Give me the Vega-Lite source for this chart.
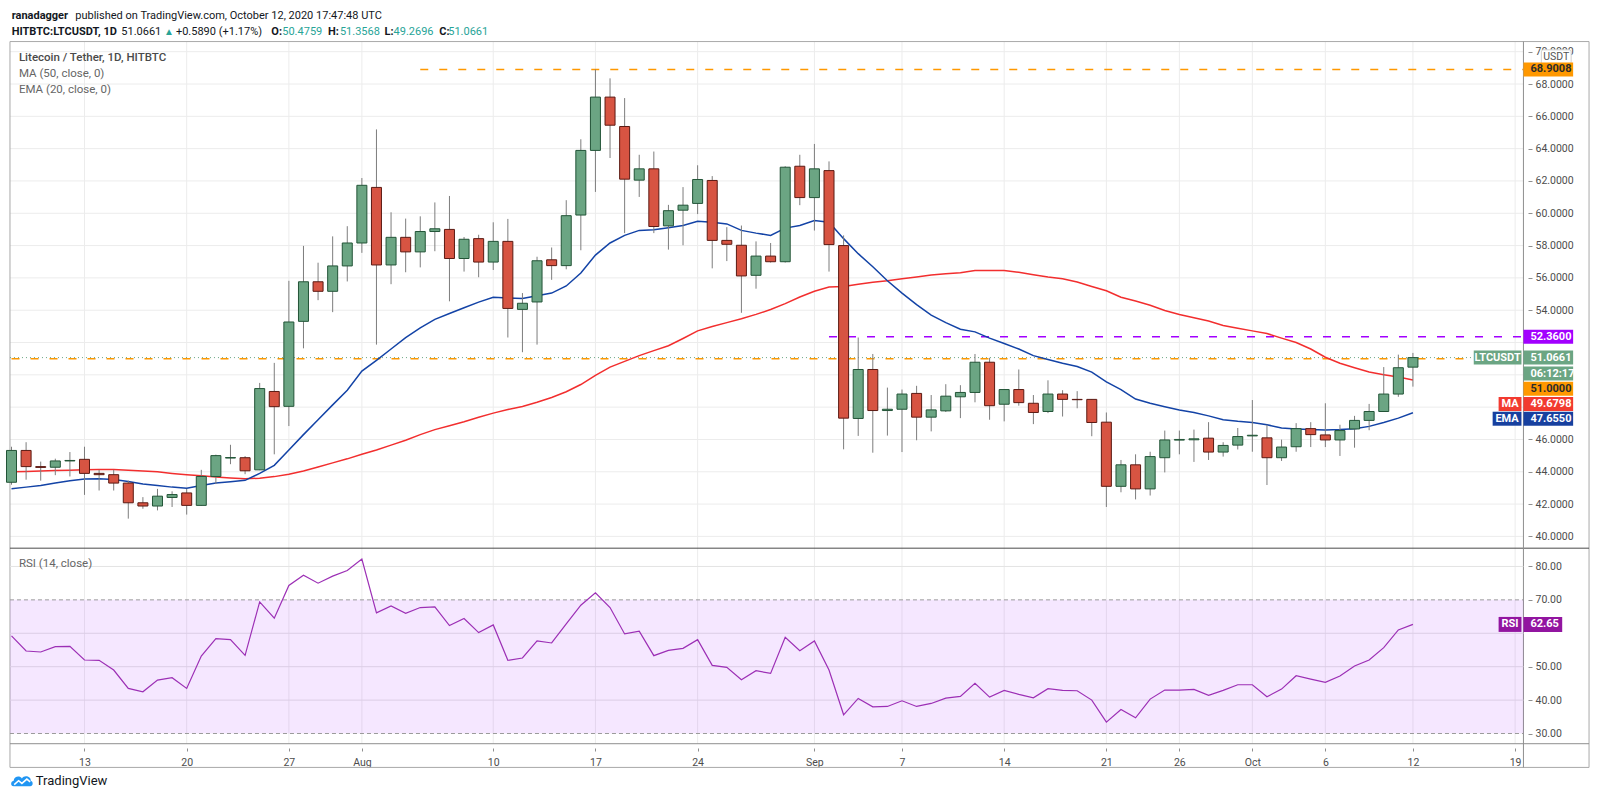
{
"$schema": "https://vega.github.io/schema/vega-lite/v6.json",
"width": 1600,
"height": 805,
"autosize": {"type": "fit", "contains": "padding"},
"padding": 0,
"background": "#ffffff",
"config": {"view": {"stroke": null}, "text": {"font": "Roboto"}, "axis": {"labelFont": "Roboto"}},
"datasets": {
"candles": [
{"date":"2020-07-08","open":43.35,"high":45.55,"low":43.2,"close":45.32,"ma":44.0,"ema":42.95,"rsi":59.2},
{"date":"2020-07-09","open":45.32,"high":45.83,"low":43.51,"close":44.32,"ma":44.02,"ema":43.05,"rsi":54.7},
{"date":"2020-07-10","open":44.32,"high":44.63,"low":43.45,"close":44.27,"ma":44.05,"ema":43.15,"rsi":54.4},
{"date":"2020-07-11","open":44.28,"high":44.81,"low":43.79,"close":44.67,"ma":44.08,"ema":43.3,"rsi":56.0},
{"date":"2020-07-12","open":44.67,"high":45.22,"low":43.71,"close":44.7,"ma":44.1,"ema":43.45,"rsi":56.1},
{"date":"2020-07-13","open":44.77,"high":45.55,"low":42.57,"close":43.9,"ma":44.12,"ema":43.55,"rsi":52.0},
{"date":"2020-07-14","open":43.9,"high":44.12,"low":42.84,"close":43.82,"ma":44.14,"ema":43.57,"rsi":51.9},
{"date":"2020-07-15","open":43.82,"high":44.12,"low":42.84,"close":43.3,"ma":44.14,"ema":43.52,"rsi":49.0},
{"date":"2020-07-16","open":43.3,"high":43.45,"low":41.1,"close":42.08,"ma":44.1,"ema":43.4,"rsi":43.5},
{"date":"2020-07-17","open":42.08,"high":42.43,"low":41.71,"close":41.88,"ma":44.05,"ema":43.25,"rsi":42.5},
{"date":"2020-07-18","open":41.88,"high":42.94,"low":41.61,"close":42.49,"ma":44.0,"ema":43.15,"rsi":46.0},
{"date":"2020-07-19","open":42.41,"high":42.79,"low":41.82,"close":42.59,"ma":43.9,"ema":43.05,"rsi":46.7},
{"date":"2020-07-20","open":42.69,"high":42.94,"low":41.35,"close":41.92,"ma":43.82,"ema":42.98,"rsi":43.5},
{"date":"2020-07-21","open":41.92,"high":44.12,"low":41.9,"close":43.71,"ma":43.75,"ema":43.15,"rsi":53.2},
{"date":"2020-07-22","open":43.71,"high":45.06,"low":43.24,"close":45.0,"ma":43.68,"ema":43.3,"rsi":58.4},
{"date":"2020-07-23","open":44.85,"high":45.67,"low":44.47,"close":44.88,"ma":43.62,"ema":43.38,"rsi":58.1},
{"date":"2020-07-24","open":44.87,"high":44.97,"low":43.85,"close":44.06,"ma":43.57,"ema":43.47,"rsi":53.4},
{"date":"2020-07-25","open":44.12,"high":49.5,"low":44.1,"close":49.15,"ma":43.6,"ema":43.9,"rsi":69.4},
{"date":"2020-07-26","open":48.97,"high":50.74,"low":45.08,"close":48.03,"ma":43.7,"ema":44.4,"rsi":64.5},
{"date":"2020-07-27","open":48.05,"high":55.82,"low":46.83,"close":53.27,"ma":43.85,"ema":45.35,"rsi":74.3},
{"date":"2020-07-28","open":53.31,"high":57.98,"low":51.64,"close":55.76,"ma":44.05,"ema":46.3,"rsi":77.4},
{"date":"2020-07-29","open":55.76,"high":56.94,"low":54.62,"close":55.17,"ma":44.3,"ema":47.22,"rsi":75.0},
{"date":"2020-07-30","open":55.17,"high":58.57,"low":53.88,"close":56.74,"ma":44.55,"ema":48.14,"rsi":77.1},
{"date":"2020-07-31","open":56.74,"high":59.2,"low":55.78,"close":58.16,"ma":44.8,"ema":49.05,"rsi":78.8},
{"date":"2020-08-01","open":58.16,"high":62.18,"low":57.55,"close":61.73,"ma":45.08,"ema":50.23,"rsi":82.2},
{"date":"2020-08-02","open":61.6,"high":65.19,"low":51.87,"close":56.8,"ma":45.35,"ema":50.9,"rsi":66.1},
{"date":"2020-08-03","open":56.8,"high":60.06,"low":55.61,"close":58.51,"ma":45.65,"ema":51.6,"rsi":68.2},
{"date":"2020-08-04","open":58.51,"high":59.67,"low":56.35,"close":57.61,"ma":45.95,"ema":52.3,"rsi":66.0},
{"date":"2020-08-05","open":57.61,"high":59.81,"low":56.65,"close":58.87,"ma":46.3,"ema":52.9,"rsi":67.7},
{"date":"2020-08-06","open":58.87,"high":60.67,"low":57.65,"close":59.04,"ma":46.61,"ema":53.43,"rsi":67.9},
{"date":"2020-08-07","open":59.0,"high":61.07,"low":54.55,"close":57.2,"ma":46.85,"ema":53.8,"rsi":62.3},
{"date":"2020-08-08","open":57.2,"high":58.53,"low":56.39,"close":58.39,"ma":47.1,"ema":54.15,"rsi":64.4},
{"date":"2020-08-09","open":58.43,"high":58.67,"low":56.04,"close":56.98,"ma":47.38,"ema":54.5,"rsi":60.2},
{"date":"2020-08-10","open":56.98,"high":59.44,"low":56.49,"close":58.26,"ma":47.63,"ema":54.8,"rsi":62.5},
{"date":"2020-08-11","open":58.26,"high":59.65,"low":52.31,"close":54.11,"ma":47.85,"ema":54.75,"rsi":51.9},
{"date":"2020-08-12","open":54.05,"high":55.06,"low":51.4,"close":54.43,"ma":48.04,"ema":54.72,"rsi":52.6},
{"date":"2020-08-13","open":54.51,"high":57.31,"low":51.87,"close":57.06,"ma":48.3,"ema":54.9,"rsi":57.7},
{"date":"2020-08-14","open":57.12,"high":57.88,"low":55.88,"close":56.76,"ma":48.6,"ema":55.06,"rsi":57.1},
{"date":"2020-08-15","open":56.76,"high":60.81,"low":56.53,"close":59.85,"ma":48.95,"ema":55.5,"rsi":62.8},
{"date":"2020-08-16","open":59.89,"high":64.58,"low":57.71,"close":63.89,"ma":49.4,"ema":56.3,"rsi":68.4},
{"date":"2020-08-17","open":63.89,"high":68.9,"low":61.32,"close":67.19,"ma":49.97,"ema":57.41,"rsi":72.1},
{"date":"2020-08-18","open":67.19,"high":68.35,"low":63.42,"close":65.45,"ma":50.48,"ema":58.16,"rsi":67.7},
{"date":"2020-08-19","open":65.37,"high":67.13,"low":58.77,"close":62.11,"ma":50.83,"ema":58.63,"rsi":59.8},
{"date":"2020-08-20","open":62.05,"high":63.62,"low":61.01,"close":62.75,"ma":51.19,"ema":58.94,"rsi":60.6},
{"date":"2020-08-21","open":62.75,"high":63.82,"low":58.77,"close":59.18,"ma":51.5,"ema":58.98,"rsi":53.3},
{"date":"2020-08-22","open":59.22,"high":60.52,"low":57.75,"close":60.16,"ma":51.8,"ema":59.1,"rsi":54.9},
{"date":"2020-08-23","open":60.19,"high":61.62,"low":58.02,"close":60.5,"ma":52.25,"ema":59.24,"rsi":55.5},
{"date":"2020-08-24","open":60.61,"high":62.97,"low":59.95,"close":62.09,"ma":52.72,"ema":59.51,"rsi":58.1},
{"date":"2020-08-25","open":62.03,"high":62.3,"low":56.59,"close":58.32,"ma":52.99,"ema":59.44,"rsi":50.4},
{"date":"2020-08-26","open":58.32,"high":59.14,"low":57.04,"close":58.08,"ma":53.23,"ema":59.34,"rsi":49.8},
{"date":"2020-08-27","open":58.02,"high":59.24,"low":53.84,"close":56.12,"ma":53.47,"ema":58.94,"rsi":46.1},
{"date":"2020-08-28","open":56.16,"high":58.26,"low":55.33,"close":57.35,"ma":53.74,"ema":58.77,"rsi":48.8},
{"date":"2020-08-29","open":57.35,"high":58.16,"low":56.95,"close":57.0,"ma":54.04,"ema":58.63,"rsi":48.0},
{"date":"2020-08-30","open":57.0,"high":62.91,"low":56.95,"close":62.85,"ma":54.41,"ema":59.08,"rsi":58.8},
{"date":"2020-08-31","open":62.91,"high":63.62,"low":60.5,"close":60.97,"ma":54.82,"ema":59.24,"rsi":54.8},
{"date":"2020-09-01","open":60.97,"high":64.29,"low":58.93,"close":62.75,"ma":55.17,"ema":59.55,"rsi":57.7},
{"date":"2020-09-02","open":62.64,"high":63.21,"low":56.39,"close":58.06,"ma":55.43,"ema":59.44,"rsi":49.0},
{"date":"2020-09-03","open":58.0,"high":58.63,"low":45.39,"close":47.32,"ma":55.47,"ema":58.43,"rsi":35.6},
{"date":"2020-09-04","open":47.3,"high":52.31,"low":46.22,"close":50.33,"ma":55.61,"ema":57.5,"rsi":40.5},
{"date":"2020-09-05","open":50.33,"high":51.29,"low":45.18,"close":47.79,"ma":55.73,"ema":56.69,"rsi":38.0},
{"date":"2020-09-06","open":47.79,"high":49.21,"low":46.24,"close":47.87,"ma":55.82,"ema":55.82,"rsi":38.1},
{"date":"2020-09-07","open":47.87,"high":49.09,"low":45.22,"close":48.81,"ma":55.94,"ema":55.06,"rsi":39.8},
{"date":"2020-09-08","open":48.85,"high":49.32,"low":45.95,"close":47.38,"ma":56.05,"ema":54.35,"rsi":38.1},
{"date":"2020-09-09","open":47.38,"high":48.75,"low":46.5,"close":47.83,"ma":56.18,"ema":53.7,"rsi":39.0},
{"date":"2020-09-10","open":47.77,"high":49.42,"low":47.7,"close":48.68,"ma":56.25,"ema":53.23,"rsi":40.6},
{"date":"2020-09-11","open":48.64,"high":49.36,"low":47.32,"close":48.91,"ma":56.32,"ema":52.82,"rsi":41.1},
{"date":"2020-09-12","open":48.91,"high":51.29,"low":48.3,"close":50.78,"ma":56.45,"ema":52.66,"rsi":45.0},
{"date":"2020-09-13","open":50.78,"high":51.05,"low":47.22,"close":48.09,"ma":56.45,"ema":52.27,"rsi":40.9},
{"date":"2020-09-14","open":48.18,"high":49.09,"low":47.12,"close":49.09,"ma":56.45,"ema":51.94,"rsi":42.9},
{"date":"2020-09-15","open":49.09,"high":50.33,"low":48.09,"close":48.28,"ma":56.35,"ema":51.6,"rsi":41.7},
{"date":"2020-09-16","open":48.24,"high":48.75,"low":46.95,"close":47.67,"ma":56.2,"ema":51.19,"rsi":40.7},
{"date":"2020-09-17","open":47.73,"high":49.66,"low":47.63,"close":48.81,"ma":56.05,"ema":50.95,"rsi":43.4},
{"date":"2020-09-18","open":48.81,"high":49.05,"low":47.42,"close":48.48,"ma":55.94,"ema":50.72,"rsi":42.9},
{"date":"2020-09-19","open":48.48,"high":48.99,"low":47.93,"close":48.46,"ma":55.75,"ema":50.52,"rsi":42.8},
{"date":"2020-09-20","open":48.48,"high":48.5,"low":46.2,"close":47.05,"ma":55.47,"ema":50.17,"rsi":40.0},
{"date":"2020-09-21","open":47.07,"high":47.67,"low":41.82,"close":43.1,"ma":55.2,"ema":49.56,"rsi":33.4},
{"date":"2020-09-22","open":43.1,"high":44.73,"low":42.73,"close":44.43,"ma":54.8,"ema":49.09,"rsi":37.2},
{"date":"2020-09-23","open":44.43,"high":45.08,"low":42.29,"close":42.94,"ma":54.57,"ema":48.5,"rsi":34.7},
{"date":"2020-09-24","open":42.94,"high":45.24,"low":42.53,"close":44.94,"ma":54.31,"ema":48.24,"rsi":40.3},
{"date":"2020-09-25","open":44.87,"high":46.55,"low":43.96,"close":45.97,"ma":53.98,"ema":48.03,"rsi":43.0},
{"date":"2020-09-26","open":45.96,"high":46.55,"low":45.08,"close":46.0,"ma":53.74,"ema":47.83,"rsi":43.0},
{"date":"2020-09-27","open":45.98,"high":46.61,"low":44.61,"close":46.04,"ma":53.53,"ema":47.67,"rsi":43.2},
{"date":"2020-09-28","open":46.08,"high":47.07,"low":44.73,"close":45.22,"ma":53.33,"ema":47.46,"rsi":41.4},
{"date":"2020-09-29","open":45.22,"high":45.83,"low":44.94,"close":45.63,"ma":53.05,"ema":47.22,"rsi":42.9},
{"date":"2020-09-30","open":45.65,"high":46.71,"low":45.38,"close":46.18,"ma":52.88,"ema":47.12,"rsi":44.6},
{"date":"2020-10-01","open":46.22,"high":48.44,"low":45.24,"close":46.26,"ma":52.72,"ema":47.05,"rsi":44.6},
{"date":"2020-10-02","open":46.1,"high":46.91,"low":43.18,"close":44.87,"ma":52.56,"ema":46.91,"rsi":41.0},
{"date":"2020-10-03","open":44.87,"high":45.99,"low":44.67,"close":45.53,"ma":52.27,"ema":46.71,"rsi":43.3},
{"date":"2020-10-04","open":45.55,"high":47.01,"low":45.24,"close":46.67,"ma":52.0,"ema":46.65,"rsi":47.3},
{"date":"2020-10-05","open":46.67,"high":47.07,"low":45.53,"close":46.3,"ma":51.6,"ema":46.61,"rsi":46.3},
{"date":"2020-10-06","open":46.28,"high":48.24,"low":45.53,"close":45.97,"ma":51.09,"ema":46.59,"rsi":45.3},
{"date":"2020-10-07","open":45.97,"high":46.91,"low":44.98,"close":46.55,"ma":50.72,"ema":46.61,"rsi":47.2},
{"date":"2020-10-08","open":46.65,"high":47.46,"low":45.49,"close":47.18,"ma":50.44,"ema":46.67,"rsi":50.2},
{"date":"2020-10-09","open":47.18,"high":48.2,"low":46.57,"close":47.73,"ma":50.17,"ema":46.81,"rsi":52.0},
{"date":"2020-10-10","open":47.73,"high":50.48,"low":47.7,"close":48.81,"ma":50.01,"ema":47.05,"rsi":55.7},
{"date":"2020-10-11","open":48.81,"high":51.25,"low":48.64,"close":50.44,"ma":49.87,"ema":47.32,"rsi":61.0},
{"date":"2020-10-12","open":50.4759,"high":51.3568,"low":49.2696,"close":51.0661,"ma":49.6798,"ema":47.655,"rsi":62.65}
]
},
"layer": [
{
"layer": [
{"data": {"values": [{"g": 40}, {"g": 42}, {"g": 44}, {"g": 46}, {"g": 48}, {"g": 50}, {"g": 52}, {"g": 54}, {"g": 56}, {"g": 58}, {"g": 60}, {"g": 62}, {"g": 64}, {"g": 66}, {"g": 68}, {"g": 70}]},
 "mark": {"type": "rule", "color": "#ececec", "strokeWidth": 1},
 "encoding": {"x": {"datum": 1594157284000, "type": "temporal", "scale": {"type": "utc", "domain": [1594127876000, 1603538359000]}}, "x2": {"datum": 1603114887000},
  "y": {"field": "g", "type": "quantitative", "scale": {"domain": [23.685, 72.89], "nice": false, "zero": false}}}},
{"data": {"values": [{"d": "2020-07-13"}, {"d": "2020-07-20"}, {"d": "2020-07-27"}, {"d": "2020-08-01"}, {"d": "2020-08-10"}, {"d": "2020-08-17"}, {"d": "2020-08-24"}, {"d": "2020-09-01"}, {"d": "2020-09-07"}, {"d": "2020-09-14"}, {"d": "2020-09-21"}, {"d": "2020-09-26"}, {"d": "2020-10-01"}, {"d": "2020-10-06"}, {"d": "2020-10-12"}, {"d": "2020-10-19"}]},
 "mark": {"type": "rule", "color": "#ececec", "strokeWidth": 1},
 "encoding": {"x": {"field": "d", "type": "temporal", "scale": {"type": "utc", "domain": [1594127876000, 1603538359000]},
   "axis": {"orient": "bottom", "offset": -57, "title": null,
    "values": [{"year": 2020, "month": 7, "date": 13, "utc": true}, {"year": 2020, "month": 7, "date": 20, "utc": true}, {"year": 2020, "month": 7, "date": 27, "utc": true}, {"year": 2020, "month": 8, "date": 1, "utc": true}, {"year": 2020, "month": 8, "date": 10, "utc": true}, {"year": 2020, "month": 8, "date": 17, "utc": true}, {"year": 2020, "month": 8, "date": 24, "utc": true}, {"year": 2020, "month": 9, "date": 1, "utc": true}, {"year": 2020, "month": 9, "date": 7, "utc": true}, {"year": 2020, "month": 9, "date": 14, "utc": true}, {"year": 2020, "month": 9, "date": 21, "utc": true}, {"year": 2020, "month": 9, "date": 26, "utc": true}, {"year": 2020, "month": 10, "date": 1, "utc": true}, {"year": 2020, "month": 10, "date": 6, "utc": true}, {"year": 2020, "month": 10, "date": 12, "utc": true}, {"year": 2020, "month": 10, "date": 19, "utc": true}],
    "labelExpr": "utcdate(datum.value) == 1 ? utcFormat(datum.value, '%b') : utcFormat(datum.value, '%-d')",
    "grid": false, "domain": false, "ticks": true, "tickSize": 3, "tickColor": "#8f8f8f",
    "labelFontSize": 10.5, "labelColor": "#4d4d4d", "labelPadding": 6, "labelOverlap": false, "labelFlush": false, "labelBound": false}},
  "y": {"datum": 70.628, "type": "quantitative", "scale": {"domain": [23.685, 72.89], "nice": false, "zero": false}}, "y2": {"datum": 27.169}}},
{"data": {"values": [{}]}, "mark": {"type": "rect", "filled": false, "stroke": "#a9a9a9", "strokeWidth": 1},
 "encoding": {"x": {"datum": 1594157284000, "type": "temporal", "scale": {"type": "utc", "domain": [1594127876000, 1603538359000]}}, "x2": {"datum": 1603503069000},
 "y": {"datum": 70.628, "type": "quantitative", "scale": {"domain": [23.685, 72.89], "nice": false, "zero": false}}, "y2": {"datum": 25.702}}},
{"data": {"values": [{"level": 68.9008, "from": "2020-08-05", "kind": "orange"}, {"level": 51.0, "from": "2020-07-08", "kind": "orange"}, {"level": 52.36, "from": "2020-09-02", "kind": "purple"}]},
 "mark": {"type": "rule", "strokeDash": [8, 11], "strokeWidth": 1.5},
 "encoding": {"x": {"field": "from", "type": "temporal", "scale": {"type": "utc", "domain": [1594127876000, 1603538359000]}}, "x2": {"datum": 1603114887000},
 "y": {"field": "level", "type": "quantitative", "scale": {"domain": [23.685, 72.89], "nice": false, "zero": false}},
 "color": {"condition": {"test": "datum.kind == 'purple'", "value": "#a200ff"}, "value": "#ff9800"}}},
{"data": {"values": [{"last": 51.0661}]}, "mark": {"type": "rule", "strokeDash": [1, 3], "strokeWidth": 1, "color": "#6ba583"},
 "encoding": {"x": {"datum": 1594157284000, "type": "temporal", "scale": {"type": "utc", "domain": [1594127876000, 1603538359000]}}, "x2": {"datum": 1602820809000},
 "y": {"field": "last", "type": "quantitative", "scale": {"domain": [23.685, 72.89], "nice": false, "zero": false}}}},
{"data": {"name": "candles"}, "mark": {"type": "line", "color": "#f22e2e", "strokeWidth": 1.5},
 "encoding": {
  "x": {"field": "date", "type": "temporal", "scale": {"type": "utc", "domain": [1594127876000, 1603538359000]}},
  "y": {"field": "ma", "type": "quantitative", "scale": {"domain": [23.685, 72.89], "nice": false, "zero": false},
   "axis": {"orient": "right", "offset": -72, "title": null, "values": [40, 42, 44, 46, 54, 56, 58, 60, 62, 64, 66, 68, 70], "format": ".4f",
    "grid": false, "domain": false, "ticks": true, "tickSize": 4, "tickColor": "#8f8f8f",
    "labelFontSize": 10.5, "labelColor": "#4d4d4d", "labelPadding": 3, "labelOverlap": false, "labelFlush": false, "labelBound": false}}}},
{"data": {"name": "candles"}, "mark": {"type": "line", "color": "#1343a6", "strokeWidth": 1.5},
 "encoding": {"x": {"field": "date", "type": "temporal", "scale": {"type": "utc", "domain": [1594127876000, 1603538359000]}},
  "y": {"field": "ema", "type": "quantitative", "scale": {"domain": [23.685, 72.89], "nice": false, "zero": false}}}},
{"data": {"name": "candles"}, "mark": {"type": "rule", "color": "#7d7d7d", "strokeWidth": 1},
 "encoding": {"x": {"field": "date", "type": "temporal", "scale": {"type": "utc", "domain": [1594127876000, 1603538359000]}},
  "y": {"field": "low", "type": "quantitative", "scale": {"domain": [23.685, 72.89], "nice": false, "zero": false}}, "y2": {"field": "high"}}},
{"data": {"name": "candles"}, "mark": {"type": "bar", "orient": "vertical", "width": 10, "strokeWidth": 1},
 "encoding": {"x": {"field": "date", "type": "temporal", "scale": {"type": "utc", "domain": [1594127876000, 1603538359000]}},
  "y": {"field": "open", "type": "quantitative", "scale": {"domain": [23.685, 72.89], "nice": false, "zero": false}}, "y2": {"field": "close"},
  "fill": {"condition": {"test": "datum.close >= datum.open", "value": "#6ba583"}, "value": "#d75442"},
  "stroke": {"condition": {"test": "datum.close >= datum.open", "value": "#225437"}, "value": "#5b1a13"}}},
{"data": {"values": [{"y": 39.271}]}, "mark": {"type": "rule", "color": "#4a4a4a", "strokeWidth": 1},
 "encoding": {"x": {"datum": 1594157284000, "type": "temporal", "scale": {"type": "utc", "domain": [1594127876000, 1603538359000]}}, "x2": {"datum": 1603503069000},
  "y": {"field": "y", "type": "quantitative", "scale": {"domain": [23.685, 72.89], "nice": false, "zero": false}}}},
{"data": {"values": [{"y": 27.169}]}, "mark": {"type": "rule", "color": "#8f8f8f", "strokeWidth": 1},
 "encoding": {"x": {"datum": 1594157284000, "type": "temporal", "scale": {"type": "utc", "domain": [1594127876000, 1603538359000]}}, "x2": {"datum": 1603503069000},
  "y": {"field": "y", "type": "quantitative", "scale": {"domain": [23.685, 72.89], "nice": false, "zero": false}}}},
{"data": {"values": [{}]}, "mark": {"type": "rule", "color": "#8f8f8f", "strokeWidth": 1},
 "encoding": {"x": {"datum": 1603114887000, "type": "temporal", "scale": {"type": "utc", "domain": [1594127876000, 1603538359000]}},
  "y": {"datum": 70.628, "type": "quantitative", "scale": {"domain": [23.685, 72.89], "nice": false, "zero": false}}, "y2": {"datum": 25.702}}},

{"data": {"values": [{}]}, "mark": {"type": "text", "align": "left", "baseline": "middle", "fontSize": 11, "fontWeight": "bold", "color": "#131722"},
 "encoding": {"x": {"datum": 1594167282000, "type": "temporal", "scale": {"type": "utc", "domain": [1594127876000, 1603538359000]}}, "y": {"datum": 72.218, "type": "quantitative", "scale": {"domain": [23.685, 72.89], "nice": false, "zero": false}}, "text": {"value": "ranadagger"}}},
{"data": {"values": [{}]}, "mark": {"type": "text", "align": "left", "baseline": "middle", "fontSize": 11, "color": "#131722"},
 "encoding": {"x": {"datum": 1594543702000, "type": "temporal", "scale": {"type": "utc", "domain": [1594127876000, 1603538359000]}}, "y": {"datum": 72.218, "type": "quantitative", "scale": {"domain": [23.685, 72.89], "nice": false, "zero": false}}, "text": {"value": "published on TradingView.com, October 12, 2020 17:47:48 UTC"}}},
{"data": {"values": [{}]}, "mark": {"type": "text", "align": "left", "baseline": "middle", "fontSize": 11, "fontWeight": "bold", "color": "#131722"},
 "encoding": {"x": {"datum": 1594167282000, "type": "temporal", "scale": {"type": "utc", "domain": [1594127876000, 1603538359000]}}, "y": {"datum": 71.24, "type": "quantitative", "scale": {"domain": [23.685, 72.89], "nice": false, "zero": false}}, "text": {"value": "HITBTC:LTCUSDT, 1D"}}},
{"data": {"values": [{}]}, "mark": {"type": "text", "align": "left", "baseline": "middle", "fontSize": 11, "color": "#131722"},
 "encoding": {"x": {"datum": 1594816017000, "type": "temporal", "scale": {"type": "utc", "domain": [1594127876000, 1603538359000]}}, "y": {"datum": 71.24, "type": "quantitative", "scale": {"domain": [23.685, 72.89], "nice": false, "zero": false}}, "text": {"value": "51.0661"}}},
{"data": {"values": [{}]}, "mark": {"type": "text", "align": "left", "baseline": "middle", "fontSize": 10, "color": "#28a497"},
 "encoding": {"x": {"datum": 1595068924000, "type": "temporal", "scale": {"type": "utc", "domain": [1594127876000, 1603538359000]}}, "y": {"datum": 71.24, "type": "quantitative", "scale": {"domain": [23.685, 72.89], "nice": false, "zero": false}}, "text": {"value": "▲"}}},
{"data": {"values": [{}]}, "mark": {"type": "text", "align": "left", "baseline": "middle", "fontSize": 11, "color": "#131722"},
 "encoding": {"x": {"datum": 1595139503000, "type": "temporal", "scale": {"type": "utc", "domain": [1594127876000, 1603538359000]}}, "y": {"datum": 71.24, "type": "quantitative", "scale": {"domain": [23.685, 72.89], "nice": false, "zero": false}}, "text": {"value": "+0.5890 (+1.17%)"}}},
{"data": {"values": [{}]}, "mark": {"type": "text", "align": "left", "baseline": "middle", "fontSize": 11, "fontWeight": "bold", "color": "#131722"},
 "encoding": {"x": {"datum": 1595704132000, "type": "temporal", "scale": {"type": "utc", "domain": [1594127876000, 1603538359000]}}, "y": {"datum": 71.24, "type": "quantitative", "scale": {"domain": [23.685, 72.89], "nice": false, "zero": false}}, "text": {"value": "O:"}}},
{"data": {"values": [{}]}, "mark": {"type": "text", "align": "left", "baseline": "middle", "fontSize": 11, "color": "#28a497"},
 "encoding": {"x": {"datum": 1595768829000, "type": "temporal", "scale": {"type": "utc", "domain": [1594127876000, 1603538359000]}}, "y": {"datum": 71.24, "type": "quantitative", "scale": {"domain": [23.685, 72.89], "nice": false, "zero": false}}, "text": {"value": "50.4759"}}},
{"data": {"values": [{}]}, "mark": {"type": "text", "align": "left", "baseline": "middle", "fontSize": 11, "fontWeight": "bold", "color": "#131722"},
 "encoding": {"x": {"datum": 1596039380000, "type": "temporal", "scale": {"type": "utc", "domain": [1594127876000, 1603538359000]}}, "y": {"datum": 71.24, "type": "quantitative", "scale": {"domain": [23.685, 72.89], "nice": false, "zero": false}}, "text": {"value": "H:"}}},
{"data": {"values": [{}]}, "mark": {"type": "text", "align": "left", "baseline": "middle", "fontSize": 11, "color": "#28a497"},
 "encoding": {"x": {"datum": 1596109959000, "type": "temporal", "scale": {"type": "utc", "domain": [1594127876000, 1603538359000]}}, "y": {"datum": 71.24, "type": "quantitative", "scale": {"domain": [23.685, 72.89], "nice": false, "zero": false}}, "text": {"value": "51.3568"}}},
{"data": {"values": [{}]}, "mark": {"type": "text", "align": "left", "baseline": "middle", "fontSize": 11, "fontWeight": "bold", "color": "#131722"},
 "encoding": {"x": {"datum": 1596374629000, "type": "temporal", "scale": {"type": "utc", "domain": [1594127876000, 1603538359000]}}, "y": {"datum": 71.24, "type": "quantitative", "scale": {"domain": [23.685, 72.89], "nice": false, "zero": false}}, "text": {"value": "L:"}}},
{"data": {"values": [{}]}, "mark": {"type": "text", "align": "left", "baseline": "middle", "fontSize": 11, "color": "#28a497"},
 "encoding": {"x": {"datum": 1596427563000, "type": "temporal", "scale": {"type": "utc", "domain": [1594127876000, 1603538359000]}}, "y": {"datum": 71.24, "type": "quantitative", "scale": {"domain": [23.685, 72.89], "nice": false, "zero": false}}, "text": {"value": "49.2696"}}},
{"data": {"values": [{}]}, "mark": {"type": "text", "align": "left", "baseline": "middle", "fontSize": 11, "fontWeight": "bold", "color": "#131722"},
 "encoding": {"x": {"datum": 1596698114000, "type": "temporal", "scale": {"type": "utc", "domain": [1594127876000, 1603538359000]}}, "y": {"datum": 71.24, "type": "quantitative", "scale": {"domain": [23.685, 72.89], "nice": false, "zero": false}}, "text": {"value": "C:"}}},
{"data": {"values": [{}]}, "mark": {"type": "text", "align": "left", "baseline": "middle", "fontSize": 11, "color": "#28a497"},
 "encoding": {"x": {"datum": 1596751048000, "type": "temporal", "scale": {"type": "utc", "domain": [1594127876000, 1603538359000]}}, "y": {"datum": 71.24, "type": "quantitative", "scale": {"domain": [23.685, 72.89], "nice": false, "zero": false}}, "text": {"value": "51.0661"}}},

{"data": {"values": [{}]}, "mark": {"type": "text", "align": "left", "baseline": "middle", "fontSize": 11.5, "fontWeight": 500, "color": "#4a4a4a"},
 "encoding": {"x": {"datum": 1594210218000, "type": "temporal", "scale": {"type": "utc", "domain": [1594127876000, 1603538359000]}}, "y": {"datum": 69.589, "type": "quantitative", "scale": {"domain": [23.685, 72.89], "nice": false, "zero": false}}, "text": {"value": "Litecoin / Tether, 1D, HITBTC"}}},
{"data": {"values": [{}]}, "mark": {"type": "text", "align": "left", "baseline": "middle", "fontSize": 11.5, "color": "#666666"},
 "encoding": {"x": {"datum": 1594210218000, "type": "temporal", "scale": {"type": "utc", "domain": [1594127876000, 1603538359000]}}, "y": {"datum": 68.611, "type": "quantitative", "scale": {"domain": [23.685, 72.89], "nice": false, "zero": false}}, "text": {"value": "MA (50, close, 0)"}}},
{"data": {"values": [{}]}, "mark": {"type": "text", "align": "left", "baseline": "middle", "fontSize": 11.5, "color": "#666666"},
 "encoding": {"x": {"datum": 1594210218000, "type": "temporal", "scale": {"type": "utc", "domain": [1594127876000, 1603538359000]}}, "y": {"datum": 67.633, "type": "quantitative", "scale": {"domain": [23.685, 72.89], "nice": false, "zero": false}}, "text": {"value": "EMA (20, close, 0)"}}},

{"data": {"values": [{}]}, "encoding": {"y": {"datum": 69.681, "type": "quantitative", "scale": {"domain": [23.685, 72.89], "nice": false, "zero": false}}},
 "layer": [
  {"mark": {"type": "bar", "orient": "horizontal", "fill": "#ffffff", "stroke": "#cfcfcf", "strokeWidth": 1, "cornerRadius": 2},
   "encoding": {"x": {"datum": 1603220755000, "type": "temporal", "scale": {"type": "utc", "domain": [1594127876000, 1603538359000]}}, "x2": {"datum": 1603397201000}, "size": {"value": 14}}},
  {"mark": {"type": "text", "align": "center", "baseline": "middle", "fontSize": 10.5, "color": "#555555"},
   "encoding": {"x": {"datum": 1603308978000, "type": "temporal", "scale": {"type": "utc", "domain": [1594127876000, 1603538359000]}}, "text": {"value": "USDT"}}}
 ]},
{"data": {"values": [{"price": 68.9008, "label": "68.9008", "kind": "orange"}, {"price": 52.36, "label": "52.3600", "kind": "purple"}, {"price": 51.0661, "label": "51.0661", "kind": "green"}]},
 "encoding": {"y": {"field": "price", "type": "quantitative", "scale": {"domain": [23.685, 72.89], "nice": false, "zero": false}}},
 "layer": [
  {"mark": {"type": "bar", "orient": "horizontal"},
   "encoding": {"x": {"datum": 1603114887000, "type": "temporal", "scale": {"type": "utc", "domain": [1594127876000, 1603538359000]}}, "x2": {"datum": 1603408965000}, "size": {"value": 14},
    "fill": {"condition": [{"test": "datum.kind == 'purple'", "value": "#a200ff"}, {"test": "datum.kind == 'green'", "value": "#6ba583"}], "value": "#ff9800"}}},
  {"mark": {"type": "text", "align": "left", "baseline": "middle", "fontSize": 11, "fontWeight": "bold"},
   "encoding": {"x": {"datum": 1603156058000, "type": "temporal", "scale": {"type": "utc", "domain": [1594127876000, 1603538359000]}}, "text": {"field": "label"},
    "color": {"condition": {"test": "datum.kind == 'orange'", "value": "#2b2b2b"}, "value": "#ffffff"}}}
 ]},
{"data": {"values": [{"price": 51.0661, "name": "LTCUSDT"}]},
 "encoding": {"y": {"field": "price", "type": "quantitative", "scale": {"domain": [23.685, 72.89], "nice": false, "zero": false}}},
 "layer": [
  {"mark": {"type": "bar", "orient": "horizontal", "color": "#6ba583"},
   "encoding": {"x": {"datum": 1602820809000, "type": "temporal", "scale": {"type": "utc", "domain": [1594127876000, 1603538359000]}}, "x2": {"datum": 1603103124000}, "size": {"value": 14}}},
  {"mark": {"type": "text", "align": "center", "baseline": "middle", "fontSize": 11, "fontWeight": "bold", "color": "#ffffff"},
   "encoding": {"x": {"datum": 1602961967000, "type": "temporal", "scale": {"type": "utc", "domain": [1594127876000, 1603538359000]}}, "text": {"field": "name"}}}
 ]},
{"data": {"values": [{"price": 51.0661, "label": "06:12:17"}]},
 "encoding": {"y": {"field": "price", "type": "quantitative", "scale": {"domain": [23.685, 72.89], "nice": false, "zero": false}}, "yOffset": {"value": 16}},
 "layer": [
  {"mark": {"type": "bar", "orient": "horizontal", "color": "#6ba583"},
   "encoding": {"x": {"datum": 1603114887000, "type": "temporal", "scale": {"type": "utc", "domain": [1594127876000, 1603538359000]}}, "x2": {"datum": 1603408965000}, "size": {"value": 14}}},
  {"mark": {"type": "text", "align": "left", "baseline": "middle", "fontSize": 11, "fontWeight": "bold", "color": "#ffffff"},
   "encoding": {"x": {"datum": 1603156058000, "type": "temporal", "scale": {"type": "utc", "domain": [1594127876000, 1603538359000]}}, "text": {"field": "label"}}}
 ]},
{"data": {"values": [{"price": 51.0, "label": "51.0000"}]},
 "encoding": {"y": {"field": "price", "type": "quantitative", "scale": {"domain": [23.685, 72.89], "nice": false, "zero": false}}, "yOffset": {"value": 30}},
 "layer": [
  {"mark": {"type": "bar", "orient": "horizontal", "color": "#ff9800"},
   "encoding": {"x": {"datum": 1603114887000, "type": "temporal", "scale": {"type": "utc", "domain": [1594127876000, 1603538359000]}}, "x2": {"datum": 1603408965000}, "size": {"value": 14}}},
  {"mark": {"type": "text", "align": "left", "baseline": "middle", "fontSize": 11, "fontWeight": "bold", "color": "#2b2b2b"},
   "encoding": {"x": {"datum": 1603156058000, "type": "temporal", "scale": {"type": "utc", "domain": [1594127876000, 1603538359000]}}, "text": {"field": "label"}}}
 ]},
{"data": {"values": [{"price": 49.6798, "label": "49.6798", "name": "MA"}]},
 "encoding": {"y": {"field": "price", "type": "quantitative", "scale": {"domain": [23.685, 72.89], "nice": false, "zero": false}}, "yOffset": {"value": 24}},
 "layer": [
  {"mark": {"type": "bar", "orient": "horizontal", "color": "#f23a30"},
   "encoding": {"x": {"datum": 1602967848000, "type": "temporal", "scale": {"type": "utc", "domain": [1594127876000, 1603538359000]}}, "x2": {"datum": 1603103124000}, "size": {"value": 14}}},
  {"mark": {"type": "bar", "orient": "horizontal", "color": "#f23a30"},
   "encoding": {"x": {"datum": 1603114887000, "type": "temporal", "scale": {"type": "utc", "domain": [1594127876000, 1603538359000]}}, "x2": {"datum": 1603408965000}, "size": {"value": 14}}},
  {"mark": {"type": "text", "align": "center", "baseline": "middle", "fontSize": 11, "fontWeight": "bold", "color": "#ffffff"},
   "encoding": {"x": {"datum": 1603035486000, "type": "temporal", "scale": {"type": "utc", "domain": [1594127876000, 1603538359000]}}, "text": {"field": "name"}}},
  {"mark": {"type": "text", "align": "left", "baseline": "middle", "fontSize": 11, "fontWeight": "bold", "color": "#ffffff"},
   "encoding": {"x": {"datum": 1603156058000, "type": "temporal", "scale": {"type": "utc", "domain": [1594127876000, 1603538359000]}}, "text": {"field": "label"}}}
 ]},
{"data": {"values": [{"price": 47.655, "label": "47.6550", "name": "EMA"}]},
 "encoding": {"y": {"field": "price", "type": "quantitative", "scale": {"domain": [23.685, 72.89], "nice": false, "zero": false}}, "yOffset": {"value": 6}},
 "layer": [
  {"mark": {"type": "bar", "orient": "horizontal", "color": "#17409f"},
   "encoding": {"x": {"datum": 1602932559000, "type": "temporal", "scale": {"type": "utc", "domain": [1594127876000, 1603538359000]}}, "x2": {"datum": 1603103124000}, "size": {"value": 14}}},
  {"mark": {"type": "bar", "orient": "horizontal", "color": "#17409f"},
   "encoding": {"x": {"datum": 1603114887000, "type": "temporal", "scale": {"type": "utc", "domain": [1594127876000, 1603538359000]}}, "x2": {"datum": 1603408965000}, "size": {"value": 14}}},
  {"mark": {"type": "text", "align": "center", "baseline": "middle", "fontSize": 11, "fontWeight": "bold", "color": "#ffffff"},
   "encoding": {"x": {"datum": 1603017841000, "type": "temporal", "scale": {"type": "utc", "domain": [1594127876000, 1603538359000]}}, "text": {"field": "name"}}},
  {"mark": {"type": "text", "align": "left", "baseline": "middle", "fontSize": 11, "fontWeight": "bold", "color": "#ffffff"},
   "encoding": {"x": {"datum": 1603156058000, "type": "temporal", "scale": {"type": "utc", "domain": [1594127876000, 1603538359000]}}, "text": {"field": "label"}}}
 ]},

{"data": {"values": [{}]}, "mark": {"type": "point", "filled": true, "color": "#2196f3", "opacity": 1, "shape": "M-0.75,0.45 C-1.05,0.45 -1.05,0 -0.75,-0.05 C-0.7,-0.45 -0.2,-0.55 0,-0.25 C0.2,-0.6 0.85,-0.45 0.8,-0.05 C1.05,0 1.05,0.45 0.75,0.45 Z", "size": 484},
 "encoding": {"x": {"datum": 1594227862000, "type": "temporal", "scale": {"type": "utc", "domain": [1594127876000, 1603538359000]}}, "y": {"datum": 24.846, "type": "quantitative", "scale": {"domain": [23.685, 72.89], "nice": false, "zero": false}}}},
{"data": {"values": [{}]}, "mark": {"type": "point", "filled": false, "color": "#ffffff", "opacity": 1, "strokeWidth": 1.6, "shape": "M-0.7,0.3 L-0.3,-0.05 L0,0.2 L0.45,-0.2 L0.75,0.05", "size": 484},
 "encoding": {"x": {"datum": 1594227862000, "type": "temporal", "scale": {"type": "utc", "domain": [1594127876000, 1603538359000]}}, "y": {"datum": 24.846, "type": "quantitative", "scale": {"domain": [23.685, 72.89], "nice": false, "zero": false}}}},
{"data": {"values": [{}]}, "mark": {"type": "text", "align": "left", "baseline": "middle", "fontSize": 13, "color": "#131722"},
 "encoding": {"x": {"datum": 1594310204000, "type": "temporal", "scale": {"type": "utc", "domain": [1594127876000, 1603538359000]}}, "y": {"datum": 24.846, "type": "quantitative", "scale": {"domain": [23.685, 72.89], "nice": false, "zero": false}}, "text": {"value": "TradingView"}}}
]
},
{
"layer": [
{"data": {"values": [{"g": 40}, {"g": 50}, {"g": 60}, {"g": 80}]}, "mark": {"type": "rule", "color": "#e3e3e3", "strokeWidth": 1},
 "encoding": {"x": {"datum": 1594157284000, "type": "temporal", "scale": {"type": "utc", "domain": [1594127876000, 1603538359000]}}, "x2": {"datum": 1603114887000},
  "y": {"field": "g", "type": "quantitative", "scale": {"domain": [10.1, 248.05], "nice": false, "zero": false}}}},
{"data": {"values": [{}]}, "mark": {"type": "rect", "color": "#9915ff", "opacity": 0.1},
 "encoding": {"x": {"datum": 1594157284000, "type": "temporal", "scale": {"type": "utc", "domain": [1594127876000, 1603538359000]}}, "x2": {"datum": 1603114887000},
  "y": {"datum": 70, "type": "quantitative", "scale": {"domain": [10.1, 248.05], "nice": false, "zero": false}}, "y2": {"datum": 30}}},
{"data": {"values": [{"bound": 70}, {"bound": 30}]}, "mark": {"type": "rule", "color": "#9b9b9b", "strokeDash": [4, 3], "strokeWidth": 1},
 "encoding": {"x": {"datum": 1594157284000, "type": "temporal", "scale": {"type": "utc", "domain": [1594127876000, 1603538359000]}}, "x2": {"datum": 1603114887000},
  "y": {"field": "bound", "type": "quantitative", "scale": {"domain": [10.1, 248.05], "nice": false, "zero": false}}}},
{"data": {"name": "candles"}, "mark": {"type": "line", "color": "#9c2fb5", "strokeWidth": 1.2},
 "encoding": {"x": {"field": "date", "type": "temporal", "scale": {"type": "utc", "domain": [1594127876000, 1603538359000]}},
  "y": {"field": "rsi", "type": "quantitative", "scale": {"domain": [10.1, 248.05], "nice": false, "zero": false},
   "axis": {"orient": "right", "offset": -72, "title": null, "values": [30, 40, 50, 70, 80], "format": ".2f", "grid": false,
    "domain": false, "ticks": true, "tickSize": 4, "tickColor": "#8f8f8f", "labelFontSize": 10.5, "labelColor": "#4d4d4d", "labelPadding": 3, "labelOverlap": false, "labelFlush": false, "labelBound": false}}}},
{"data": {"values": [{}]}, "mark": {"type": "text", "align": "left", "baseline": "middle", "fontSize": 11.5, "color": "#666666"},
 "encoding": {"x": {"datum": 1594210218000, "type": "temporal", "scale": {"type": "utc", "domain": [1594127876000, 1603538359000]}}, "y": {"datum": 80.75, "type": "quantitative", "scale": {"domain": [10.1, 248.05], "nice": false, "zero": false}}, "text": {"value": "RSI (14, close)"}}},
{"data": {"values": [{"rsi": 62.65, "label": "62.65", "name": "RSI"}]},
 "encoding": {"y": {"field": "rsi", "type": "quantitative", "scale": {"domain": [10.1, 248.05], "nice": false, "zero": false}}},
 "layer": [
  {"mark": {"type": "bar", "orient": "horizontal", "color": "#9215a0"},
   "encoding": {"x": {"datum": 1602967848000, "type": "temporal", "scale": {"type": "utc", "domain": [1594127876000, 1603538359000]}}, "x2": {"datum": 1603103124000}, "size": {"value": 15}}},
  {"mark": {"type": "bar", "orient": "horizontal", "color": "#9215a0"},
   "encoding": {"x": {"datum": 1603114887000, "type": "temporal", "scale": {"type": "utc", "domain": [1594127876000, 1603538359000]}}, "x2": {"datum": 1603344268000}, "size": {"value": 15}}},
  {"mark": {"type": "text", "align": "center", "baseline": "middle", "fontSize": 11, "fontWeight": "bold", "color": "#ffffff"},
   "encoding": {"x": {"datum": 1603035486000, "type": "temporal", "scale": {"type": "utc", "domain": [1594127876000, 1603538359000]}}, "text": {"field": "name"}}},
  {"mark": {"type": "text", "align": "left", "baseline": "middle", "fontSize": 11, "fontWeight": "bold", "color": "#ffffff"},
   "encoding": {"x": {"datum": 1603156058000, "type": "temporal", "scale": {"type": "utc", "domain": [1594127876000, 1603538359000]}}, "text": {"field": "label"}}}
 ]}
]
}
],
"resolve": {"scale": {"y": "independent"}}
}
